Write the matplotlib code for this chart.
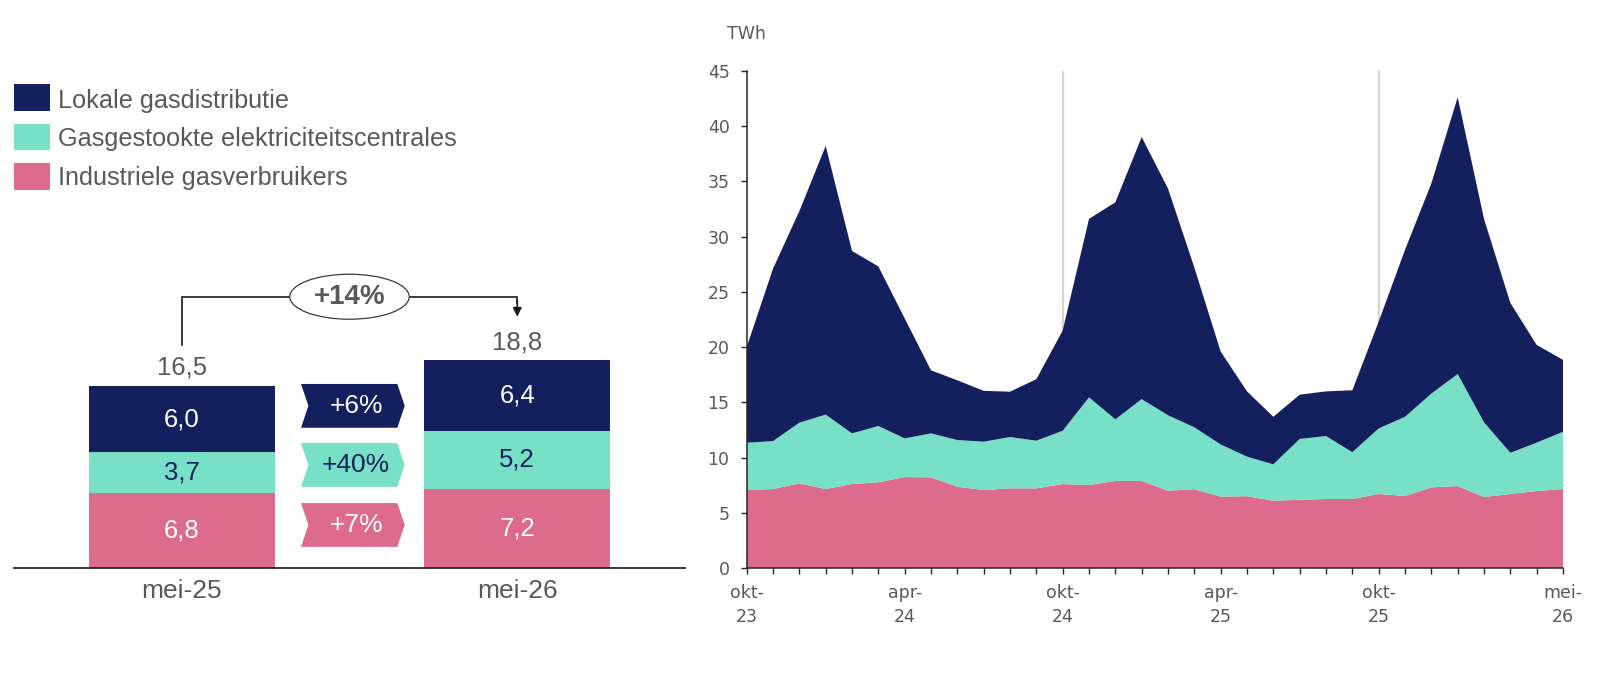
import numpy as np
import matplotlib
matplotlib.use("Agg")
import matplotlib.pyplot as plt
from matplotlib.patches import Rectangle, Polygon, Ellipse

plt.rcParams["font.family"] = ["DejaVu Sans"]

# ---------------- data ----------------
series_names = ["Lokale gasdistributie", "Gasgestookte elektriciteitscentrales", "Industriele gasverbruikers"]

months = ["okt-23", "nov-23", "dec-23", "jan-24", "feb-24", "mrt-24", "apr-24", "mei-24",
          "jun-24", "jul-24", "aug-24", "sep-24", "okt-24", "nov-24", "dec-24", "jan-25",
          "feb-25", "mrt-25", "apr-25", "mei-25", "jun-25", "jul-25", "aug-25", "sep-25",
          "okt-25", "nov-25", "dec-25", "jan-26", "feb-26", "mrt-26", "apr-26", "mei-26"]
labeled_months = ["okt-23", "apr-24", "okt-24", "apr-25", "okt-25", "mei-26"]
marker_months = ["okt-24", "okt-25"]

industrial = [7.08, 7.17, 7.68, 7.17, 7.62, 7.78, 8.25, 8.22, 7.38, 7.08, 7.23, 7.23,
              7.62, 7.53, 7.90, 7.90, 7.02, 7.15, 6.48, 6.52, 6.11, 6.20, 6.27, 6.27,
              6.72, 6.54, 7.32, 7.44, 6.45, 6.72, 6.99, 7.17]
power = [4.28, 4.33, 5.49, 6.73, 4.58, 5.09, 3.50, 3.98, 4.22, 4.37, 4.64, 4.31,
         4.82, 7.93, 5.57, 7.40, 6.82, 5.60, 4.72, 3.58, 3.29, 5.50, 5.69, 4.23,
         5.93, 7.16, 8.48, 10.13, 6.75, 3.73, 4.37, 5.18]
local = [8.64, 15.60, 19.13, 24.30, 16.50, 14.43, 10.85, 5.70, 5.40, 4.60, 4.10, 5.56,
         9.06, 16.14, 19.63, 23.70, 20.50, 14.45, 8.40, 5.90, 4.30, 4.00, 4.04, 5.60,
         9.65, 15.10, 19.00, 25.03, 18.40, 13.55, 8.84, 6.50]

periods = ["mei-25", "mei-26"]
bar_industrial = [6.8, 7.2]
bar_power = [3.7, 5.2]
bar_local = [6.0, 6.4]
change_labels = ["+6%", "+40%", "+7%"]   # local, power, industrial
total_change_label = "+14%"

# ---------------- style ----------------
NAVY = "#141F5E"
MINT = "#78E0C6"
PINK = "#DD6B8B"
GREY = "#595959"
AXC = "#262626"
LEFT_FONT = ["Liberation Sans", "DejaVu Sans"]
RIGHT_FONT = ["DejaVu Sans"]

W, H = 1620, 676
fig = plt.figure(figsize=(W / 100, H / 100), dpi=100)

def fx(px):
    return px / W

def fy(py):
    return 1 - py / H

y_bottom_px, y_top_px = 568.3, 70.7

# ---------------- right: stacked area ----------------
axr = fig.add_axes([fx(746.7), fy(y_bottom_px), fx(1563) - fx(746.7), (y_bottom_px - y_top_px) / H])
x = np.arange(len(months))
axr.stackplot(x, industrial, power, local, colors=[PINK, MINT, NAVY], linewidth=0, zorder=2)
for m in marker_months:
    axr.axvline(months.index(m), color="#D4D4D4", lw=1.6, zorder=1)
axr.set_xlim(0, len(months) - 1)
axr.set_ylim(0, 45)
axr.set_yticks(np.arange(0, 46, 5))
axr.set_xticks(x)
axr.set_xticklabels([m.replace("-", "-\n") if m in labeled_months else "" for m in months],
                    fontfamily=RIGHT_FONT)
for s in ["top", "right"]:
    axr.spines[s].set_visible(False)
for s in ["left", "bottom"]:
    axr.spines[s].set_color(AXC)
    axr.spines[s].set_linewidth(1.1)
    axr.spines[s].set_zorder(3)
axr.tick_params(axis="both", direction="out", length=4.3, width=1, color=AXC,
                labelcolor=GREY, labelsize=12.5)
axr.tick_params(axis="y", pad=8)
axr.tick_params(axis="x", pad=7)
for lab in axr.get_xticklabels():
    lab.set_linespacing(1.4)
fig.text(fx(746.7), fy(34), "TWh", ha="center", va="center", fontsize=12.5,
         color=GREY, family=RIGHT_FONT)

# ---------------- left: stacked bars ----------------
axl = fig.add_axes([fx(14), fy(y_bottom_px), fx(685) - fx(14), (y_bottom_px - y_top_px) / H])
axl.set_xlim(-0.5, 1.5)
axl.set_ylim(0, 45)
pos = np.arange(len(periods))
bw = 0.555
bottoms = np.zeros(len(periods))
bar_series = [(bar_industrial, PINK, "white"), (bar_power, MINT, NAVY), (bar_local, NAVY, "white")]
for vals, col, tcol in bar_series:
    vals = np.array(vals)
    axl.bar(pos, vals, width=bw, bottom=bottoms, color=col, linewidth=0, zorder=2)
    for p, v, b in zip(pos, vals, bottoms):
        axl.text(p, b + v / 2, f"{v:.1f}".replace(".", ","), ha="center", va="center",
                 fontsize=18.5, color=tcol, family=LEFT_FONT, zorder=4)
    bottoms = bottoms + vals
totals = bottoms
for p, t in zip(pos, totals):
    axl.text(p, t + 1.65, f"{t:.1f}".replace(".", ","), ha="center", va="center",
             fontsize=18.5, color=GREY, family=LEFT_FONT)

axl.set_xticks(pos)
axl.set_xticklabels(periods, fontfamily=LEFT_FONT)
axl.tick_params(axis="x", length=0, pad=7.5, labelsize=19, labelcolor=GREY)
axl.set_yticks([])
for s in ["top", "right", "left"]:
    axl.spines[s].set_visible(False)
axl.spines["bottom"].set_color(AXC)
axl.spines["bottom"].set_linewidth(1.3)
axl.patch.set_alpha(0)

# chevrons with change labels (local, power, industrial from top)
chev_x0, chev_x1, notch = 0.3555, 0.6645, 0.022
chev_centers = [14.69, 9.34, 3.92]
chev_half = 1.98
chev_styles = [(NAVY, "white"), (MINT, NAVY), (PINK, "white")]
for c, lab, (fc, tc) in zip(chev_centers, change_labels, chev_styles):
    top, bot = c + chev_half, c - chev_half
    poly = Polygon([(chev_x0, top), (chev_x1 - notch, top), (chev_x1, c),
                    (chev_x1 - notch, bot), (chev_x0, bot), (chev_x0 + notch, c)],
                   closed=True, facecolor=fc, edgecolor="none", zorder=3)
    axl.add_patch(poly)
    axl.text((chev_x0 + chev_x1) / 2 + 0.01, c, lab, ha="center", va="center",
             fontsize=19, color=tc, family=LEFT_FONT, zorder=4)

# bracket with total change
br_y = totals[0] + 8.06
ell_w, ell_h = 0.356, 4.07
lc = "#1A1A1A"
axl.plot([0, 0, 0.5 - ell_w / 2], [totals[0] + 3.69, br_y, br_y], color=lc, lw=1.2,
         solid_joinstyle="miter", zorder=3)
axl.plot([0.5 + ell_w / 2, 1, 1], [br_y, br_y, br_y - 0.6], color=lc, lw=1.2,
         solid_joinstyle="miter", zorder=3)
axl.annotate("", xy=(1, totals[1] + 3.95), xytext=(1, br_y - 0.3),
             arrowprops=dict(arrowstyle="-|>", color=lc, lw=1.2, mutation_scale=13,
                             shrinkA=0, shrinkB=0), zorder=3)
axl.add_patch(Ellipse((0.5, br_y), ell_w, ell_h, facecolor="white", edgecolor="#3A3A3A",
                      lw=0.9, zorder=4))
axl.text(0.5, br_y, total_change_label, ha="center", va="center", fontsize=20,
         fontweight="bold", color=GREY, family=LEFT_FONT, zorder=5)

# ---------------- legend ----------------
leg_colors = [NAVY, MINT, PINK]
leg_tops = [84, 123.8, 163]
leg_baselines = [108, 146.2, 185.5]
for name, col, t, b in zip(series_names, leg_colors, leg_tops, leg_baselines):
    fig.patches.append(Rectangle((fx(14), fy(t + 26.5)), 36 / W, 26.5 / H,
                                 transform=fig.transFigure, facecolor=col,
                                 edgecolor="none"))
    fig.text(fx(58.3), fy(b), name, ha="left", va="baseline", fontsize=18.2,
             color=GREY, family=LEFT_FONT)

fig.savefig("out.png", dpi=100)
